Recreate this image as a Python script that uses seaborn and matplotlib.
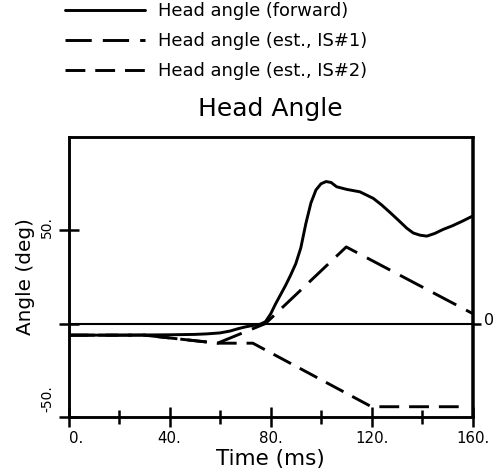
import numpy as np
import pandas as pd
import matplotlib
matplotlib.use('Agg')
import matplotlib.pyplot as plt
import matplotlib.transforms as mtransforms
import seaborn as sns

# ── data ───────────────────────────────────────────────────────────────────
time_fwd = [0, 20, 40, 50, 55, 60, 64, 67, 70, 73, 76, 78, 80, 82, 84, 86, 88,
            90, 92, 93, 94, 96, 98, 100, 102, 104, 106.2, 110.2, 115.4, 120.7,
            124, 127.3, 130.5, 134, 136.5, 139.2, 141.9, 145, 148.4, 152, 156, 160]
angle_fwd = [-6.2, -6.2, -6.0, -5.8, -5.5, -5.0, -4.0, -2.8, -1.8, -1.0, -0.3,
             1.0, 5.0, 10.5, 15.5, 20.5, 26, 32, 40.5, 47, 53.5, 64.5, 71.5, 74.8,
             76, 75.5, 73.2, 71.8, 70.5, 67, 63.5, 59.5, 55.5, 51, 48.5, 47.3,
             46.8, 48.2, 50.4, 52.3, 54.8, 57.5]

time_is1 = [0, 30, 59, 78, 110, 160]
angle_is1 = [-6.2, -6.2, -10.5, 0, 41, 5.4]

time_is2 = [0, 30, 59, 73, 120, 158]
angle_is2 = [-6.2, -6.2, -10.5, -10.5, -44.5, -44.5]

labels = ['Head angle (forward)', 'Head angle (est., IS#1)', 'Head angle (est., IS#2)']

x_major = [0, 40, 80, 120, 160]
x_major_labels = ['0.', '40.', '80.', '120.', '160.']
x_minor = [20, 60, 100, 140]
y_ticks = [-50, 0, 50]
y_tick_labels = ['-50.', '', '50.']

# ── style ──────────────────────────────────────────────────────────────────
sns.set_style('ticks', {'axes.edgecolor': 'black', 'text.color': 'black',
                        'xtick.color': 'black', 'ytick.color': 'black',
                        'axes.labelcolor': 'black'})
plt.rcParams['font.family'] = ['DejaVu Sans']

fig = plt.figure(figsize=(4.99, 4.74), dpi=100)
ax = fig.add_axes([68.5 / 499, 1 - 417 / 474, 404 / 499, (417 - 136.7) / 474])

lw = 2.1
sns.lineplot(x=time_fwd, y=angle_fwd, ax=ax, color='black', linewidth=lw,
             label=labels[0], sort=False)
sns.lineplot(x=time_is1, y=angle_is1, ax=ax, color='black', linewidth=lw,
             label=labels[1], sort=False)
sns.lineplot(x=time_is2, y=angle_is2, ax=ax, color='black', linewidth=lw,
             label=labels[2], sort=False)
ax.lines[1].set_dashes((9.0, 3.8))
ax.lines[2].set_dashes((6.8, 3.4))

ax.axhline(0, color='black', linewidth=1.5)

ax.set_xlim(0, 160)
ax.set_ylim(-50, 100)

for spine in ax.spines.values():
    spine.set_linewidth(1.8)

ax.set_xticks(x_major, x_major_labels)
ax.set_xticks(x_minor, minor=True)
ax.set_yticks(y_ticks, y_tick_labels)
ax.tick_params(axis='x', which='major', direction='inout', length=15, width=1.8,
               labelsize=10.8, pad=2.5)
ax.tick_params(axis='x', which='minor', direction='inout', length=10, width=1.8)
ax.tick_params(axis='y', direction='inout', length=14.4, width=1.8,
               labelsize=10, pad=3, labelrotation=90)

# nudge a few tick labels like the original
def shift(label, dx, dy):
    label.set_transform(label.get_transform() +
                        mtransforms.ScaledTranslation(dx / 100, dy / 100, fig.dpi_scale_trans))

xl = ax.get_xticklabels()
shift(xl[0], 8, 0)
yl = ax.get_yticklabels()
for t in yl:
    t.set_va('center')
shift(yl[0], 0, 18)
shift(yl[2], 0, 3.5)

ax.set_xlabel('Time (ms)', fontsize=15.5, labelpad=2)
ax.set_ylabel('Angle (deg)', fontsize=14.4, labelpad=4)
ax.set_title('Head Angle', fontsize=18, pad=15)

# right-hand zero marker
ax2 = ax.twinx()
ax2.set_ylim(ax.get_ylim())
ax2.set_yticks([0], ['0'])
ax2.tick_params(axis='y', direction='out', length=6.5, width=1.8, labelsize=11.5, pad=2)
for spine in ax2.spines.values():
    spine.set_linewidth(1.8)
shift(ax2.get_yticklabels()[0], 0, 5)

ax.get_legend().remove()
handles = ax.lines[:3]
fig.legend(handles, labels, loc='upper left',
           bbox_to_anchor=(65 / 499, 1 - 2.5 / 474), frameon=False,
           fontsize=12.9, handlelength=4.47, handletextpad=0.73,
           labelspacing=0.66, borderpad=0, borderaxespad=0)

fig.savefig('out.png', dpi=100)
plt.close(fig)
